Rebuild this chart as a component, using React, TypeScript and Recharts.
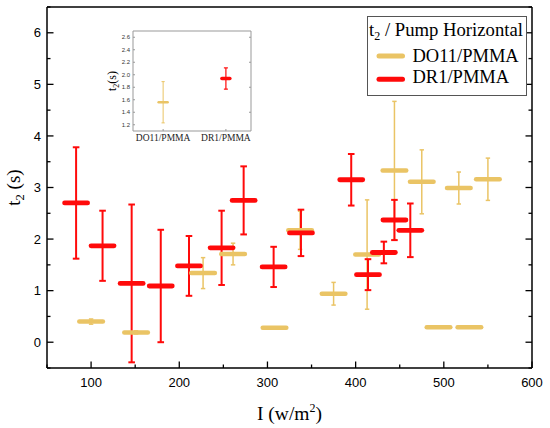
import React from "react";
import {
  ComposedChart,
  Scatter,
  ErrorBar,
  XAxis,
  YAxis,
  Legend,
  Label,
} from "recharts";

// Relaxation time t2 vs pump intensity, horizontal pump
const doIntensity = [100, 151, 227, 261, 308, 337, 375, 413, 444, 475, 494, 517, 529, 550];
const doTime = [0.4, 0.19, 1.34, 1.71, 0.28, 2.17, 0.94, 1.7, 3.33, 3.11, 0.29, 2.99, 0.29, 3.16];
const doError = [0.05, 0.03, 0.3, 0.21, 0, 0.37, 0.22, 1.06, 1.34, 0.62, 0, 0.31, 0, 0.41];

const drIntensity = [83, 113, 146, 179, 211, 248, 273, 307, 338, 395, 414, 432, 444, 462];
const drTime = [2.7, 1.87, 1.14, 1.09, 1.48, 1.83, 2.75, 1.46, 2.12, 3.15, 1.31, 1.74, 2.37, 2.17];
const drError = [1.08, 0.68, 1.53, 1.09, 0.58, 0.72, 0.66, 0.39, 0.45, 0.5, 0.3, 0.21, 0.39, 0.52];

// inset: averages per material
const insetNames = ["DO11/PMMA", "DR1/PMMA"];
const insetTime = [1.56, 1.94];
const insetError = [0.33, 0.17];

const xTicks = [50, 100, 150, 200, 250, 300, 350, 400, 450, 500, 550, 600];
const yTicks = [-0.5, 0, 0.5, 1, 1.5, 2, 2.5, 3, 3.5, 4, 4.5, 5, 5.5, 6, 6.5];
const insetYTicks = [1.2, 1.4, 1.6, 1.8, 2.0, 2.2, 2.4, 2.6];

const YELLOW = "#eac465";
const RED = "#ff0a0a";
const SANS = '"Liberation Sans", Arial, sans-serif';
const SERIF = '"Liberation Serif", "Times New Roman", serif';

const doData = doIntensity.map((x, i) => ({ x, y: doTime[i], err: doError[i] }));
const drData = drIntensity.map((x, i) => ({ x, y: drTime[i], err: drError[i] }));
const insetDo = [{ x: 0, y: insetTime[0], err: insetError[0] }];
const insetDr = [{ x: 1, y: insetTime[1], err: insetError[1] }];

const isMajorX = (v: number) => v % 100 === 0;
const isMajorY = (v: number) => Number.isInteger(v);

function BottomTick(props: any) {
  const { x, y, payload } = props;
  const major = isMajorX(payload.value);
  return (
    <g>
      <line x1={x} x2={x} y1={y} y2={y - (major ? 6.5 : 3.5)} stroke="#000" strokeWidth={1.3} />
      {major && (
        <text x={x} y={y + 18.5} textAnchor="middle" fontSize={13} fontFamily={SANS} fill="#000">
          {payload.value}
        </text>
      )}
    </g>
  );
}

function TopTick(props: any) {
  const { x, y, payload } = props;
  const major = isMajorX(payload.value);
  return <line x1={x} x2={x} y1={y} y2={y + (major ? 6.5 : 3.5)} stroke="#000" strokeWidth={1.3} />;
}

function LeftTick(props: any) {
  const { x, y, payload } = props;
  const major = isMajorY(payload.value);
  return (
    <g>
      <line x1={x} x2={x + (major ? 6.5 : 3.5)} y1={y} y2={y} stroke="#000" strokeWidth={1.3} />
      {major && (
        <text x={x - 6} y={y} dy="0.36em" textAnchor="end" fontSize={13} fontFamily={SANS} fill="#000">
          {payload.value}
        </text>
      )}
    </g>
  );
}

function RightTick(props: any) {
  const { x, y, payload } = props;
  const major = isMajorY(payload.value);
  return <line x1={x} x2={x - (major ? 6.5 : 3.5)} y1={y} y2={y} stroke="#000" strokeWidth={1.3} />;
}

const dash = (color: string, half: number, thick: number) => (props: any) => (
  <line
    x1={props.cx - half}
    x2={props.cx + half}
    y1={props.cy}
    y2={props.cy}
    stroke={color}
    strokeWidth={thick}
    strokeLinecap="round"
  />
);

function renderLegend(props: any) {
  const payload = props.payload || [];
  return (
    <svg width={160} height={80} style={{ display: "block" }}>
      <rect x={0.5} y={0.5} width={159} height={79} fill="#fff" stroke="#555" strokeWidth={1} />
      <text x={2} y={20} fontSize={18.7} fontFamily={SERIF} fill="#000">
        t<tspan dy={4} fontSize={12}>2</tspan>
        <tspan dy={-4}> / Pump Horizontal</tspan>
      </text>
      {payload.map((p: any, i: number) => (
        <g key={p.value}>
          <line
            x1={12}
            x2={35.5}
            y1={40 + i * 23.3}
            y2={40 + i * 23.3}
            stroke={p.color}
            strokeWidth={5}
            strokeLinecap="round"
          />
          <text x={45.5} y={45.7 + i * 21.6} fontSize={18.5} fontFamily={SERIF} fill="#000">
            {p.value}
          </text>
        </g>
      ))}
    </svg>
  );
}

function InsetBottomTick(props: any) {
  const { x, y, payload } = props;
  return (
    <g>
      <line x1={x} x2={x} y1={y} y2={y - 2} stroke="#999" />
      <text x={x} y={y + 10} textAnchor="middle" fontSize={9.5} fontFamily={SERIF} fill="#222">
        {insetNames[payload.value]}
      </text>
    </g>
  );
}

function InsetLeftTick(props: any) {
  const { x, y, payload } = props;
  return (
    <g>
      <line x1={x} x2={x + 2} y1={y} y2={y} stroke="#999" />
      <text x={x - 3} y={y} dy="0.36em" textAnchor="end" fontSize={6} fontFamily={SANS} fill="#333">
        {payload.value.toFixed(1)}
      </text>
    </g>
  );
}

function Inset() {
  return (
    <ComposedChart
      width={260}
      height={150}
      margin={{ top: 30, right: 8, bottom: 18, left: 132 }}
    >
      <XAxis
        type="number"
        dataKey="x"
        domain={[-0.48, 1.4]}
        allowDataOverflow
        ticks={[0, 1]}
        interval={0}
        height={1}
        tickSize={0}
        tickMargin={0}
        tickLine={false}
        tick={InsetBottomTick}
        axisLine={{ stroke: "#999", strokeWidth: 1 }}
      />
      <XAxis
        xAxisId="top"
        orientation="top"
        type="number"
        domain={[-0.48, 1.4]}
        allowDataOverflow
        ticks={[0, 1]}
        height={1}
        tickSize={0}
        tickMargin={0}
        tickLine={false}
        tick={(p: any) => <line x1={p.x} x2={p.x} y1={p.y} y2={p.y + 2} stroke="#999" />}
        axisLine={{ stroke: "#999", strokeWidth: 1 }}
      />
      <YAxis
        type="number"
        dataKey="y"
        domain={[1.1, 2.7]}
        allowDataOverflow
        ticks={insetYTicks}
        interval={0}
        width={1}
        tickSize={0}
        tickMargin={0}
        tickLine={false}
        tick={InsetLeftTick}
        axisLine={{ stroke: "#999", strokeWidth: 1 }}
      >
        <Label
          content={(p: any) => {
            const vb = p.viewBox || { x: 132, y: 31, height: 100 };
            const cy = vb.y + vb.height / 2;
            const bx = 116;
            return (
              <text
                x={bx}
                y={cy}
                transform={`rotate(-90 ${bx} ${cy})`}
                textAnchor="middle"
                fontSize={12}
                fontFamily={SERIF}
                fill="#000"
              >
                t<tspan dy={3} fontSize={8}>2</tspan>
                <tspan dy={-3}>(s)</tspan>
              </text>
            );
          }}
        />
      </YAxis>
      <YAxis
        yAxisId="right"
        orientation="right"
        type="number"
        domain={[1.1, 2.7]}
        allowDataOverflow
        ticks={insetYTicks}
        width={1}
        tickSize={0}
        tickMargin={0}
        tickLine={false}
        tick={(p: any) => <line x1={p.x} x2={p.x - 2} y1={p.y} y2={p.y} stroke="#999" />}
        axisLine={{ stroke: "#999", strokeWidth: 1 }}
      />
      <Scatter data={insetDo} fill={YELLOW} shape={dash(YELLOW, 4.5, 2.5)} isAnimationActive={false}>
        <ErrorBar dataKey="err" direction="y" width={1.6} stroke={YELLOW} strokeWidth={1} isAnimationActive={false} />
      </Scatter>
      <Scatter data={insetDr} fill={RED} shape={dash(RED, 4, 3.5)} isAnimationActive={false}>
        <ErrorBar dataKey="err" direction="y" width={2} stroke={RED} strokeWidth={1.2} isAnimationActive={false} />
      </Scatter>
    </ComposedChart>
  );
}

export default function App() {
  return (
    <div style={{ position: "absolute", left: 0, top: 0, width: 550, height: 428, background: "#fff" }}>
      <ComposedChart width={550} height={428} margin={{ top: 6, right: 17, bottom: 59, left: 46 }}>
        <XAxis
          type="number"
          dataKey="x"
          domain={[50, 600]}
          allowDataOverflow
          ticks={xTicks}
          interval={0}
          height={1}
          tickSize={0}
          tickMargin={0}
          tickLine={false}
          tick={BottomTick}
          axisLine={{ stroke: "#000", strokeWidth: 1.5 }}
        >
          <Label
            content={(p: any) => {
              const vb = p.viewBox || { x: 47, y: 368, width: 485 };
              return (
                <text x={vb.x + vb.width / 2} y={420} textAnchor="middle" fontSize={19.5} fontFamily={SERIF} fill="#000">
                  I (w/m<tspan dy={-8} fontSize={12}>2</tspan>
                  <tspan dy={8}>)</tspan>
                </text>
              );
            }}
          />
        </XAxis>
        <XAxis
          xAxisId="top"
          orientation="top"
          type="number"
          domain={[50, 600]}
          allowDataOverflow
          ticks={xTicks}
          interval={0}
          height={1}
          tickSize={0}
          tickMargin={0}
          tickLine={false}
          tick={TopTick}
          axisLine={{ stroke: "#000", strokeWidth: 1.5 }}
        />
        <YAxis
          type="number"
          dataKey="y"
          domain={[-0.5, 6.5]}
          allowDataOverflow
          ticks={yTicks}
          interval={0}
          width={1}
          tickSize={0}
          tickMargin={0}
          tickLine={false}
          tick={LeftTick}
          axisLine={{ stroke: "#000", strokeWidth: 1.5 }}
        >
          <Label
            content={(p: any) => {
              const vb = p.viewBox || { x: 46, y: 7, height: 361 };
              const cy = vb.y + vb.height / 2;
              const bx = 20;
              return (
                <text
                  x={bx}
                  y={cy}
                  transform={`rotate(-90 ${bx} ${cy})`}
                  textAnchor="middle"
                  fontSize={19}
                  fontFamily={SERIF}
                  fill="#000"
                >
                  t<tspan dy={4} fontSize={12.5}>2</tspan>
                  <tspan dy={-4}> (s)</tspan>
                </text>
              );
            }}
          />
        </YAxis>
        <YAxis
          yAxisId="right"
          orientation="right"
          type="number"
          domain={[-0.5, 6.5]}
          allowDataOverflow
          ticks={yTicks}
          interval={0}
          width={1}
          tickSize={0}
          tickMargin={0}
          tickLine={false}
          tick={RightTick}
          axisLine={{ stroke: "#000", strokeWidth: 1.5 }}
        />
        <Legend
          layout="vertical"
          align="center"
          verticalAlign="middle"
          content={renderLegend}
          wrapperStyle={{ left: 367, top: 16, width: 160, height: 80 }}
        />
        <Scatter
          name="DO11/PMMA"
          data={doData}
          fill={YELLOW}
          shape={dash(YELLOW, 11.8, 4.5)}
          isAnimationActive={false}
        >
          <ErrorBar dataKey="err" direction="y" width={2.2} stroke={YELLOW} strokeWidth={1.5} isAnimationActive={false} />
        </Scatter>
        <Scatter
          name="DR1/PMMA"
          data={drData}
          fill={RED}
          shape={dash(RED, 11.5, 4.8)}
          isAnimationActive={false}
        >
          <ErrorBar dataKey="err" direction="y" width={3.3} stroke={RED} strokeWidth={2} isAnimationActive={false} />
        </Scatter>
      </ComposedChart>
      <div style={{ position: "absolute", left: 0, top: 0 }}>
        <Inset />
      </div>
    </div>
  );
}
